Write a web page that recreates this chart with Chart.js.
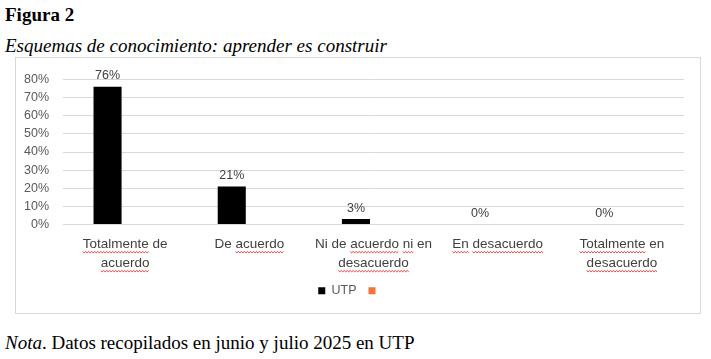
<!DOCTYPE html>
<html>
<head>
<meta charset="utf-8">
<script src="https://cdn.jsdelivr.net/npm/chart.js@4.4.1/dist/chart.umd.min.js"></script>
<style>
  body { margin: 0; background: #fff; width: 711px; height: 359px; position: relative; overflow: hidden; }
  .t { position: absolute; left: 5px; font-family: "Liberation Serif", "Times New Roman", serif; font-size: 19px; color: #000; white-space: nowrap; }
  #fig { top: 4px; font-weight: bold; }
  #sub { top: 35px; font-style: italic; }
  #nota { top: 332px; }
  #box { position: absolute; left: 15px; top: 57px; width: 684px; height: 255px; border: 1px solid #d9d9d9; }
</style>
</head>
<body>
<div class="t" id="fig">Figura 2</div>
<div class="t" id="sub">Esquemas de conocimiento: aprender es construir</div>
<div id="box"><canvas id="mycanvas" width="684" height="255"></canvas></div>
<div class="t" id="nota"><i>Nota</i>. Datos recopilados en junio y julio 2025 en UTP</div>
<script>
var categories = [
	["Totalmente de", "acuerdo"],
	["De acuerdo"],
	["Ni de acuerdo ni en", "desacuerdo"],
	["En desacuerdo"],
	["Totalmente en", "desacuerdo"]
];
var utp = [76, 21, 3, 0, 0];
var other = [null, null, null, null, null];
var yTicks = [0, 10, 20, 30, 40, 50, 60, 70, 80];
// words the original shows with the red spell-check squiggle
var squiggled = ["Totalmente", "acuerdo", "ni", "desacuerdo", "En"];

var font = "Liberation Sans";

var extras = {
	id: "extras",
	afterDatasetsDraw: function(chart) {
		var ctx = chart.ctx;
		var meta = chart.getDatasetMeta(0);
		ctx.save();
		ctx.font = "12.5px " + font;
		ctx.fillStyle = "#404040";
		ctx.textAlign = "center";
		ctx.textBaseline = "middle";
		meta.data.forEach(function(bar, i) {
			ctx.fillText(utp[i] + "%", bar.x, bar.y - 11);
		});

		// category labels, two lines, with squiggles
		var xs = chart.scales.x;
		ctx.font = "13.5px " + font;
		categories.forEach(function(lines, i) {
			var cx = xs.getPixelForValue(i);
			lines.forEach(function(line, j) {
				var y = xs.top + 19.5 + j * 19;
				ctx.textAlign = "center";
				ctx.fillText(line, cx, y);
				var w = ctx.measureText(line).width;
				var pos = cx - w / 2;
				var sp = ctx.measureText(" ").width;
				line.split(" ").forEach(function(word) {
					var ww = ctx.measureText(word).width;
					if (squiggled.indexOf(word) >= 0) {
						ctx.beginPath();
						ctx.strokeStyle = "#e0282a";
						ctx.lineWidth = 0.9;
						var up = true;
						for (var k = pos; k <= pos + ww; k += 1.5) {
							var yy = y + 7.5 + (up ? 0 : 1.3);
							if (k === pos) ctx.moveTo(k, yy); else ctx.lineTo(k, yy);
							up = !up;
						}
						ctx.stroke();
					}
					pos += ww + sp;
				});
			});
		});
		ctx.restore();
	}
};

var chartdata = {
	labels: categories,
	datasets: [
		{
			label: "UTP",
			backgroundColor: "#000000",
			borderWidth: 0,
			data: utp
		},
		{
			label: "",
			backgroundColor: "#f4733a",
			borderWidth: 0,
			data: other
		}
	]
};

var ctx = document.getElementById("mycanvas");
var BarGraph = new Chart(ctx, {
	type: "bar",
	data: chartdata,
	plugins: [extras],
	options: {
		responsive: false,
		animation: false,
		layout: { padding: { top: 14.5, right: 16, left: 0, bottom: 6 } },
		categoryPercentage: 0.565,
		barPercentage: 0.8,
		plugins: {
			tooltip: { enabled: false },
			legend: {
				position: "bottom",
				labels: {
					boxWidth: 7,
					boxHeight: 7,
					padding: 12,
					color: "#595959",
					font: { family: font, size: 12.5 }
				}
			}
		},
		scales: {
			x: {
				grid: { display: false },
				border: { display: false },
				ticks: { display: false },
				afterFit: function(s) { s.height = 48; }
			},
			y: {
				min: 0,
				max: 80,
				afterBuildTicks: function(s) { s.ticks = yTicks.map(function(v) { return { value: v }; }); },
				afterFit: function(s) { s.width = 47; },
				grid: { color: "#d9d9d9", drawTicks: false },
				border: { display: false },
				ticks: {
					autoSkip: false,
					padding: 14,
					color: "#595959",
					font: { family: font, size: 12.5 },
					callback: function(v) { return v + "%"; }
				}
			}
		}
	}
});
</script>
</body>
</html>
